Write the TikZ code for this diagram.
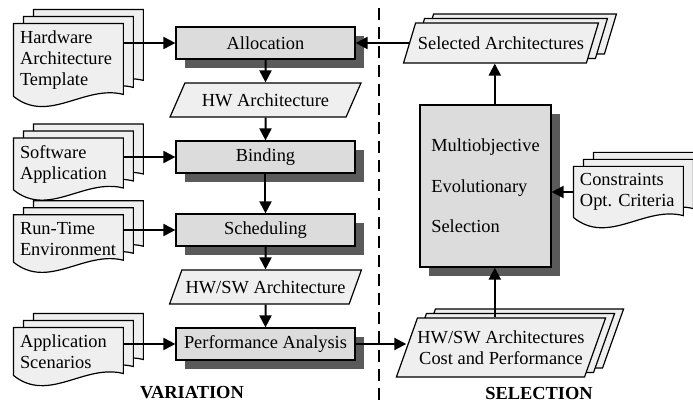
\documentclass[tikz,border=0pt]{standalone}
\usepackage{fontspec}
\setmainfont{Liberation Serif}
\usepackage{xcolor}
\usepackage{tikz}
\usetikzlibrary{shapes.geometric, arrows.meta, shadows, backgrounds, calc}
\definecolor{boxgray}{HTML}{DCDCDC}
\definecolor{papergray}{HTML}{EFEFEF}
\definecolor{shadowgray}{HTML}{5A5A5A}
\tikzstyle{process} = [rectangle, minimum width=89.5pt, minimum height=16pt, text centered, draw=black, line width=0.6pt, fill=boxgray, drop shadow={shadow xshift=4.5pt, shadow yshift=-4.5pt, fill=shadowgray, opacity=1}]
\tikzstyle{data} = [trapezium, trapezium left angle=66, trapezium right angle=114, trapezium stretches=true, minimum width=96pt, minimum height=17pt, inner xsep=0pt, align=center, draw=black, line width=0.6pt, fill=papergray]
\tikzstyle{datastack} = [data, copy shadow={shadow xshift=9pt, shadow yshift=4.5pt, fill=papergray, draw=black, line width=0.6pt}, copy shadow={shadow xshift=4.5pt, shadow yshift=2.25pt, fill=papergray, draw=black, line width=0.6pt}]
\tikzstyle{doc} = [rectangle, minimum width=54.5pt, text width=48.5pt, inner xsep=0pt, align=left]
\tikzstyle{docline} = [draw=black, line width=0.6pt, fill=papergray]
\tikzstyle{arrow} = [line width=1pt, -{Triangle[length=6pt, width=6pt]}]
\tikzstyle{phase} = [font=\fontsize{9.2}{11}\selectfont\bfseries]
\tikzstyle{divider} = [line width=0.8pt, dash pattern=on 6pt off 3.5pt]

% three sheets behind a document node
\newcommand{\docstack}[1]{%
  \begin{scope}[on background layer]
    \foreach \dx/\dy in {20/-14, 10/-7, 0/0}
      \draw[docline] ($(#1.north west)+(\dx,\dy)$) -- ($(#1.north east)+(\dx,\dy)$)
        -- ($(#1.south east)+(\dx,\dy-2)$)
        .. controls ($(#1.south east)+(\dx-39,\dy-12)$) and ($(#1.south west)+(\dx+35,\dy+28)$)
        .. ($(#1.south west)+(\dx,\dy)$) -- cycle;
  \end{scope}}

\begin{document}
\begin{tikzpicture}[x=0.5pt, y=-0.5pt, node distance=28.5pt, font=\fontsize{9.2}{10.5}\selectfont]

		\useasboundingbox (0,0) rectangle (693,403);

		% variation
		\node (alloc) [process] at (265.5,43) {Allocation};
		\node (hwa) [data, below of=alloc] {HW Architecture};
		\node (bind) [process, below of=hwa] {Binding};
		\node (sched) [process, below of=bind, yshift=-8pt] {Scheduling};
		\node (hwswa) [data, below of=sched] {HW/SW Architecture};
		\node (perf) [process, below of=hwswa] {Performance Analysis};

		\node (hwt) [doc, minimum height=35pt] at (68.5,60) {Hardware\\Architecture\\Template};
		\node (swa) [doc, minimum height=21pt] at (68.5,164) {Software\\Application};
		\node (rte) [doc, minimum height=21.5pt] at (68.5,238.5) {Run-Time\\Environment};
		\node (aps) [doc, minimum height=21.5pt] at (68.5,351.5) {Application\\Scenarios};
		\docstack{hwt}
		\docstack{swa}
		\docstack{rte}
		\docstack{aps}

		% selection
		\node (evo) [process, minimum width=65.5pt, minimum height=81pt, align=left, font=\fontsize{9.2}{20.25}\selectfont] at (485.5,186) {Multiobjective\\Evolutionary\\Selection};
		\node (sel) [datastack, minimum width=98pt, minimum height=20pt] at (501,43) {Selected Architectures};
		\node (hsa) [datastack, minimum width=98pt, minimum height=29.5pt] at (501,347.5) {HW/SW Architectures\\Cost and Performance};
		\node (con) [doc, minimum height=25pt] at (628.5,192) {Constraints\\Opt.\ Criteria};
		\docstack{con}

		\node (var) [phase] at (192,393) {VARIATION};
		\node (selx) [phase] at (539,393) {SELECTION};

		\coordinate (divtop) at (379,8);
		\coordinate (divbot) at (379,403);
		\draw [divider] (divtop) -- (divbot);

		\draw [arrow] (hwt.east |- alloc) -- (alloc.west);
		\draw [arrow] (swa.east |- bind) -- (bind.west);
		\draw [arrow] (rte.east |- sched) -- (sched.west);
		\draw [arrow] (aps.east |- perf) -- (perf.west);
		\draw [arrow] (alloc) -- (hwa);
		\draw [arrow] (hwa) -- (bind);
		\draw [arrow] (bind) -- (sched);
		\draw [arrow] (sched) -- (hwswa);
		\draw [arrow] (hwswa) -- (perf);
		\draw [arrow] (perf.east) -- (perf.east -| hsa.left side);
		\draw [arrow] (hsa.north -| sel.bottom side) -- (evo.south -| sel.bottom side);
		\draw [arrow] (evo.north -| sel.bottom side) -- (sel.bottom side);
		\draw [arrow] (sel.left side) -- (alloc.east);
		\draw [arrow] (con.west) -- (con.west -| evo.east);

	\end{tikzpicture}
\end{document}
